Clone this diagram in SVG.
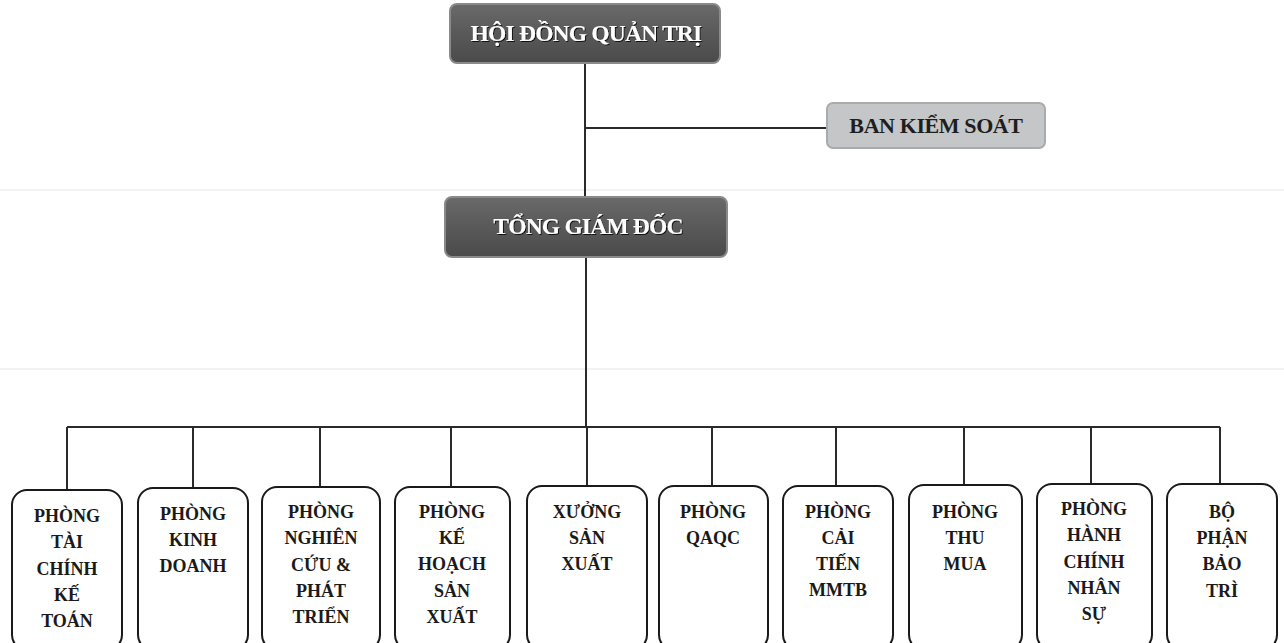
<svg xmlns="http://www.w3.org/2000/svg" width="1284" height="643" viewBox="0 0 1284 643">
<style>
.bg{fill:#fff}
.scan{stroke:#f2f2f2;stroke-width:2}
.conn line,.conn path{stroke:#2a2a2a;stroke-width:2;fill:none}
.dark rect{fill:url(#gDark);stroke:#8a8a8a;stroke-width:2}
.dark text{font-family:"Liberation Serif",serif;font-weight:bold;font-size:23.5px;fill:#fff;text-anchor:middle;letter-spacing:-0.8px;filter:url(#sh)}
.light rect{fill:#c4c6c8;stroke:#a9abad;stroke-width:2}
.light text{font-family:"Liberation Serif",serif;font-weight:bold;font-size:22px;fill:#1e1e1e;text-anchor:middle;letter-spacing:-0.4px}
.dept rect{fill:#fff;stroke:#1a1a1a;stroke-width:2}
.dept text{font-family:"Liberation Serif",serif;font-weight:bold;font-size:18px;fill:#1a1a1a;text-anchor:middle}
</style>
<defs>
<linearGradient id="gDark" x1="0" y1="0" x2="0" y2="1">
<stop offset="0" stop-color="#6a6a6a"/>
<stop offset="0.5" stop-color="#595959"/>
<stop offset="1" stop-color="#4a4a4a"/>
</linearGradient>
<filter id="sh" x="-10%" y="-30%" width="120%" height="160%">
<feDropShadow dx="1" dy="1" stdDeviation="0.6" flood-color="#000" flood-opacity="0.8"/>
</filter>
</defs>
<rect class="bg" x="0" y="0" width="1284" height="643"/>
<line class="scan" x1="0" y1="190" x2="1284" y2="190"/>
<line class="scan" x1="0" y1="369" x2="1284" y2="369"/>

<g id="connectors" class="conn">
<line x1="585" y1="63" x2="585" y2="197"/>
<line x1="585" y1="128" x2="827" y2="128"/>
<line x1="586" y1="257" x2="586" y2="427"/>
<line x1="67" y1="427" x2="1220" y2="427"/>
<line x1="67" y1="427" x2="67" y2="490"/>
<line x1="193" y1="427" x2="193" y2="488"/>
<line x1="320" y1="427" x2="320" y2="487"/>
<line x1="451" y1="427" x2="451" y2="487"/>
<line x1="587" y1="427" x2="587" y2="486"/>
<line x1="712" y1="427" x2="712" y2="486"/>
<line x1="836" y1="427" x2="836" y2="486"/>
<line x1="964" y1="427" x2="964" y2="485"/>
<line x1="1091" y1="427" x2="1091" y2="484"/>
<line x1="1220" y1="427" x2="1220" y2="484"/>
</g>

<g id="hdqt" class="dark">
<rect x="450" y="4" width="270" height="59" rx="7"/>
<text x="586" y="41">HỘI ĐỒNG QUẢN TRỊ</text>
</g>
<g id="bks" class="light">
<rect x="827" y="103" width="218" height="45" rx="6"/>
<text x="936" y="133">BAN KIỂM SOÁT</text>
</g>
<g id="tgd" class="dark">
<rect x="445" y="197" width="282" height="60" rx="7"/>
<text x="588" y="234">TỔNG GIÁM ĐỐC</text>
</g>

<g id="d1" class="dept">
<rect x="12" y="490" width="110" height="160" rx="15"/>
<text x="67" y="522">PHÒNG</text><text x="67" y="548">TÀI</text><text x="67" y="575">CHÍNH</text><text x="67" y="601">KẾ</text><text x="67" y="627">TOÁN</text>
</g>
<g id="d2" class="dept">
<rect x="138" y="488" width="110" height="162" rx="15"/>
<text x="193" y="520">PHÒNG</text><text x="193" y="546">KINH</text><text x="193" y="572">DOANH</text>
</g>
<g id="d3" class="dept">
<rect x="262" y="487" width="118" height="163" rx="15"/>
<text x="321" y="518">PHÒNG</text><text x="321" y="544">NGHIÊN</text><text x="321" y="571">CỨU &amp;</text><text x="321" y="597">PHÁT</text><text x="321" y="623">TRIỂN</text>
</g>
<g id="d4" class="dept">
<rect x="395" y="487" width="115" height="163" rx="15"/>
<text x="452" y="518">PHÒNG</text><text x="452" y="544">KẾ</text><text x="452" y="570">HOẠCH</text><text x="452" y="597">SẢN</text><text x="452" y="623">XUẤT</text>
</g>
<g id="d5" class="dept">
<rect x="527" y="486" width="120" height="164" rx="15"/>
<text x="587" y="518">XƯỞNG</text><text x="587" y="544">SẢN</text><text x="587" y="570">XUẤT</text>
</g>
<g id="d6" class="dept">
<rect x="659" y="486" width="109" height="164" rx="15"/>
<text x="713" y="518">PHÒNG</text><text x="713" y="544">QAQC</text>
</g>
<g id="d7" class="dept">
<rect x="783" y="486" width="110" height="164" rx="15"/>
<text x="838" y="518">PHÒNG</text><text x="838" y="544">CẢI</text><text x="838" y="570">TIẾN</text><text x="838" y="596">MMTB</text>
</g>
<g id="d8" class="dept">
<rect x="909" y="485" width="113" height="165" rx="15"/>
<text x="965" y="518">PHÒNG</text><text x="965" y="544">THU</text><text x="965" y="570">MUA</text>
</g>
<g id="d9" class="dept">
<rect x="1037" y="484" width="115" height="166" rx="15"/>
<text x="1094" y="515">PHÒNG</text><text x="1094" y="541">HÀNH</text><text x="1094" y="568">CHÍNH</text><text x="1094" y="594">NHÂN</text><text x="1094" y="620">SỰ</text>
</g>
<g id="d10" class="dept">
<rect x="1167" y="484" width="110" height="166" rx="15"/>
<text x="1222" y="518">BỘ</text><text x="1222" y="544">PHẬN</text><text x="1222" y="570">BẢO</text><text x="1222" y="597">TRÌ</text>
</g>
</svg>
